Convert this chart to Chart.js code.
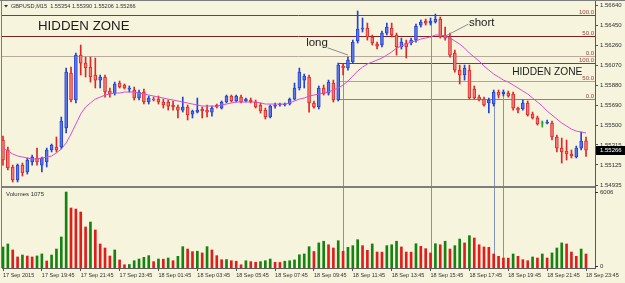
<!DOCTYPE html>
<html>
<head>
<meta charset="utf-8">
<script src="https://cdn.jsdelivr.net/npm/chart.js@4.4.1/dist/chart.umd.min.js"></script>
<style>
  html, body { margin: 0; padding: 0; background: #f6f4dc; }
  canvas { display: block; }
</style>
</head>
<body>
<canvas id="chart" width="625" height="283"></canvas>
<script>
// GBPUSD M15, 17 Sep 17:45 .. 18 Sep 23:45 (121 bars)
var symbol = 'GBPUSD,M15';
var timeLabels = ['17 Sep 2015', '17 Sep 19:45', '17 Sep 21:45', '17 Sep 23:45', '18 Sep 01:45',
  '18 Sep 03:45', '18 Sep 05:45', '18 Sep 07:45', '18 Sep 09:45', '18 Sep 11:45', '18 Sep 13:45',
  '18 Sep 15:45', '18 Sep 17:45', '18 Sep 19:45', '18 Sep 21:45', '18 Sep 23:45'];
var barsPerLabel = 8;

var opens = [
  1.55361,1.55267,1.55106,1.54983,1.55124,1.55058,1.55153,1.55191,1.55124,1.55153,
  1.55267,1.55295,1.55295,1.55475,1.55996,1.55740,1.56166,1.56090,1.56052,1.55977,
  1.55929,1.55958,1.55825,1.55806,1.55901,1.55882,1.55844,1.55835,1.55759,1.55816,
  1.55721,1.55749,1.55749,1.55721,1.55721,1.55693,1.55674,1.55645,1.55674,1.55607,
  1.55626,1.55655,1.55645,1.55626,1.55693,1.55664,1.55721,1.55778,1.55731,1.55768,
  1.55731,1.55740,1.55721,1.55693,1.55645,1.55579,1.55683,1.55693,1.55693,1.55702,
  1.55749,1.55854,1.55929,1.55958,1.55712,1.55674,1.55854,1.55806,1.55901,1.55740,
  1.56062,1.56043,1.56100,1.56299,1.56412,1.56422,1.56337,1.56270,1.56261,1.56374,
  1.56422,1.56356,1.56242,1.56280,1.56280,1.56308,1.56450,1.56488,1.56469,1.56479,
  1.56507,1.56356,1.56327,1.56185,1.56024,1.55977,1.56024,1.55844,1.55768,1.55749,
  1.55712,1.55702,1.55816,1.55797,1.55806,1.55797,1.55664,1.55655,1.55712,1.55607,
  1.55570,1.55522,1.55522,1.55522,1.55390,1.55285,1.55257,1.55229,1.55200,1.55285,
  1.55354];
var highs = [
  1.55399,1.55295,1.55124,1.55134,1.55143,1.55191,1.55219,1.55285,1.55200,1.55285,
  1.55323,1.55390,1.55579,1.56043,1.56052,1.56185,1.56261,1.56147,1.56147,1.56138,
  1.55977,1.55977,1.55854,1.55910,1.55920,1.55892,1.55873,1.55863,1.55835,1.55844,
  1.55778,1.55768,1.55778,1.55749,1.55740,1.55731,1.55693,1.55768,1.55693,1.55645,
  1.55759,1.55674,1.55693,1.55683,1.55702,1.55731,1.55787,1.55787,1.55787,1.55787,
  1.55759,1.55759,1.55740,1.55712,1.55664,1.55693,1.55712,1.55712,1.55712,1.55759,
  1.55901,1.56043,1.55986,1.55977,1.55731,1.55873,1.55882,1.55929,1.55929,1.56090,
  1.56081,1.56147,1.56308,1.56583,1.56517,1.56469,1.56356,1.56289,1.56393,1.56469,
  1.56469,1.56374,1.56327,1.56308,1.56327,1.56460,1.56498,1.56507,1.56517,1.56554,
  1.56526,1.56431,1.56374,1.56214,1.56071,1.56071,1.56071,1.55873,1.55787,1.55768,
  1.55759,1.55835,1.55835,1.55835,1.55825,1.55816,1.55674,1.55740,1.55731,1.55626,
  1.55588,1.55541,1.55551,1.55541,1.55409,1.55380,1.55361,1.55267,1.55304,1.55437,
  1.55390];
var lows = [
  1.55124,1.55077,1.54964,1.54964,1.55020,1.55039,1.55124,1.55124,1.55058,1.55106,
  1.55248,1.55248,1.55276,1.55428,1.55721,1.55712,1.55977,1.55958,1.55910,1.55854,
  1.55854,1.55768,1.55768,1.55787,1.55854,1.55844,1.55816,1.55740,1.55740,1.55702,
  1.55702,1.55731,1.55702,1.55664,1.55645,1.55645,1.55570,1.55626,1.55551,1.55570,
  1.55617,1.55570,1.55579,1.55588,1.55664,1.55655,1.55712,1.55721,1.55721,1.55712,
  1.55721,1.55712,1.55664,1.55617,1.55560,1.55570,1.55664,1.55683,1.55683,1.55693,
  1.55740,1.55835,1.55854,1.55626,1.55664,1.55655,1.55787,1.55787,1.55721,1.55731,
  1.55977,1.56024,1.56090,1.56280,1.56384,1.56308,1.56261,1.56223,1.56242,1.56356,
  1.56337,1.56166,1.56223,1.56138,1.56261,1.56289,1.56431,1.56450,1.56450,1.56469,
  1.56327,1.56308,1.56147,1.56005,1.55892,1.55929,1.55749,1.55749,1.55731,1.55683,
  1.55617,1.55683,1.55759,1.55778,1.55768,1.55645,1.55617,1.55645,1.55588,1.55560,
  1.55503,1.55484,1.55513,1.55361,1.55248,1.55143,1.55172,1.55191,1.55191,1.55267,
  1.55206];
var closes = [
  1.55172,1.55096,1.54983,1.55124,1.55049,1.55172,1.55200,1.55153,1.55191,1.55267,
  1.55314,1.55267,1.55541,1.56005,1.55740,1.56166,1.56090,1.56043,1.55958,1.55929,
  1.55958,1.55816,1.55797,1.55892,1.55863,1.55854,1.55854,1.55759,1.55816,1.55721,
  1.55759,1.55740,1.55721,1.55693,1.55683,1.55674,1.55645,1.55674,1.55598,1.55636,
  1.55645,1.55636,1.55626,1.55664,1.55674,1.55721,1.55778,1.55731,1.55778,1.55721,
  1.55749,1.55721,1.55674,1.55636,1.55579,1.55683,1.55693,1.55702,1.55702,1.55749,
  1.55854,1.56005,1.55967,1.55712,1.55674,1.55854,1.55797,1.55910,1.55740,1.56071,
  1.56043,1.56119,1.56289,1.56412,1.56422,1.56337,1.56280,1.56251,1.56374,1.56431,
  1.56356,1.56242,1.56289,1.56242,1.56308,1.56441,1.56479,1.56469,1.56488,1.56507,
  1.56337,1.56327,1.56166,1.56024,1.55977,1.56043,1.55759,1.55759,1.55740,1.55693,
  1.55740,1.55816,1.55787,1.55816,1.55778,1.55664,1.55645,1.55712,1.55598,1.55570,
  1.55513,1.55522,1.55532,1.55390,1.55285,1.55248,1.55229,1.55210,1.55285,1.55352,
  1.55266];
var maValues = [
  1.55285,1.55257,1.55229,1.55210,1.55200,1.55191,1.55181,1.55181,1.55191,1.55200,
  1.55210,1.55238,1.55276,1.55333,1.55418,1.55513,1.55607,1.55674,1.55712,1.55749,
  1.55768,1.55787,1.55797,1.55806,1.55806,1.55816,1.55816,1.55816,1.55806,1.55797,
  1.55787,1.55778,1.55768,1.55759,1.55749,1.55740,1.55731,1.55721,1.55712,1.55702,
  1.55693,1.55683,1.55683,1.55683,1.55683,1.55693,1.55702,1.55712,1.55721,1.55721,
  1.55721,1.55721,1.55721,1.55712,1.55702,1.55702,1.55702,1.55702,1.55702,1.55712,
  1.55731,1.55749,1.55759,1.55778,1.55787,1.55797,1.55806,1.55816,1.55835,1.55854,
  1.55882,1.55920,1.55967,1.56015,1.56052,1.56081,1.56100,1.56119,1.56138,1.56166,
  1.56195,1.56232,1.56251,1.56270,1.56289,1.56299,1.56318,1.56327,1.56337,1.56356,
  1.56356,1.56346,1.56327,1.56299,1.56270,1.56232,1.56185,1.56147,1.56109,1.56062,
  1.56024,1.55986,1.55958,1.55929,1.55910,1.55882,1.55854,1.55825,1.55797,1.55759,
  1.55721,1.55683,1.55636,1.55598,1.55560,1.55522,1.55494,1.55465,1.55446,1.55437,
  1.55428];
var volumes = [
  1620,1850,1390,850,1000,920,850,930,1080,540,
  1000,1460,2390,5850,4620,4540,4310,3160,3540,2930,
  1850,1540,920,1390,620,250,270,560,690,820,
  950,490,690,680,770,560,900,1640,1460,1260,
  1290,1160,1640,1390,950,640,650,560,520,250,
  560,490,440,490,560,690,440,430,520,560,
  620,1020,1080,1640,1270,1930,2060,1790,1540,2100,
  1290,1590,1720,2180,1720,1360,1850,1230,1220,1720,
  1790,2060,1620,1230,1220,1870,1670,1490,1160,1870,
  1790,2060,1460,1720,2230,1930,2490,2310,1790,1620,
  1590,1080,900,770,760,1080,900,640,560,850,
  770,1080,770,1160,1540,1930,1850,1230,900,1460,
  1075];

var priceTicks = [1.56640, 1.56450, 1.56260, 1.56070, 1.55880, 1.55690, 1.55500, 1.55315, 1.55125, 1.54935];
var volumeTicks = [6006, 0];

// fibonacci objects: prices for 100.0 / 50.0 / 0.0
var fiboLevels = ['100.0', '50.0', '0.0'];
var fiboA = [1.56545, 1.56351, 1.56157];
var fiboB = [1.56090, 1.55920, 1.55749];
var fiboBStartBar = 69;

// vertical marker lines: bar and the price they hang from
var markerBars = [70, 88, 101, 103];
var markerPrices = [1.56081, 1.56469, 1.55702, 1.55787];

var notes = [
  { text: 'HIDDEN ZONE', bar: 7.2, price: 1.56403, font: '13.3px "Liberation Sans", Arial' },
  { text: 'HIDDEN ZONE', bar: 104.8, price: 1.55977, font: '10.2px "Liberation Sans", Arial' },
  { text: 'long', bar: 62.4, price: 1.56251, font: '11.5px "Liberation Sans", Arial', from: [66.8, 1.56235], to: [71.0, 1.56166] },
  { text: 'short', bar: 95.9, price: 1.56444, font: '11.5px "Liberation Sans", Arial', from: [95.8, 1.56459], to: [91.3, 1.56351] }
];

var BG = '#f6f4dc';
var SMALL = '6px "Liberation Sans", Arial';
var last = opens.length - 1;

var bodies = [], wicks = [], bodyFill = [], bodyLine = [], wickColor = [];
for (var i = 0; i < opens.length; i++) {
  var lo = Math.min(opens[i], closes[i]), hi = Math.max(opens[i], closes[i]);
  if (hi - lo < 0.00004) { var m = (hi + lo) / 2; lo = m - 0.00002; hi = m + 0.00002; }
  bodies.push({ x: i, y: [lo, hi] });
  wicks.push({ x: i, y: [lows[i], highs[i]] });
  var up = closes[i] > opens[i], flat = closes[i] === opens[i];
  bodyFill.push(flat ? '#2aa02a' : up ? '#5b7ae8' : '#f07c7c');
  bodyLine.push(flat ? '#2aa02a' : up ? '#2442d4' : '#e02626');
  wickColor.push(flat ? '#2aa02a' : up ? '#2442d4' : '#e02626');
}
var volData = volumes.map(function (v, k) { return { x: k, y: v }; });
var volColor = volumes.map(function (v, k) { return (k === 0 || v > volumes[k - 1]) ? '#14830f' : '#e01c1c'; });
var maData = maValues.map(function (v, k) { return { x: k, y: v }; });

function zeroPad(scale) {
  scale.paddingLeft = 0; scale.paddingRight = 0; scale.paddingTop = 0; scale.paddingBottom = 0;
}

var mt4 = {
  id: 'mt4',
  beforeDraw: function (chart) {
    var c = chart.ctx;
    c.save();
    c.fillStyle = BG;
    c.fillRect(0, 0, chart.width, chart.height);
    c.restore();
  },
  beforeDatasetsDraw: function (chart) {
    var c = chart.ctx, a = chart.chartArea, x = chart.scales.x, y = chart.scales.y;
    c.save();
    c.lineWidth = 1;
    var colA = ['#8a3434', '#7a2222', '#b9a99a'];
    var colB = ['#8a3434', '#baa08c', '#b86e6e'];
    c.font = SMALL;
    c.textAlign = 'right';
    c.textBaseline = 'alphabetic';
    [[fiboA, colA, a.left], [fiboB, colB, x.getPixelForValue(fiboBStartBar)]].forEach(function (f) {
      f[0].forEach(function (p, k) {
        var py = Math.round(y.getPixelForValue(p)) + 0.5;
        c.strokeStyle = f[1][k];
        c.beginPath(); c.moveTo(f[2], py); c.lineTo(a.right, py); c.stroke();
        c.fillStyle = '#9a4040';
        c.fillText(fiboLevels[k], a.right - 1, py - 1.5);
      });
    });
    c.strokeStyle = '#8292b8';
    markerBars.forEach(function (b, k) {
      var px = Math.round(x.getPixelForValue(b)) + 0.5;
      c.beginPath(); c.moveTo(px, y.getPixelForValue(markerPrices[k])); c.lineTo(px, a.bottom); c.stroke();
    });
    c.restore();
  },
  afterDatasetsDraw: function (chart) {
    var c = chart.ctx, x = chart.scales.x, y = chart.scales.y;
    c.save();
    notes.forEach(function (n) {
      c.font = n.font;
      c.fillStyle = '#1c1c1c';
      c.textAlign = 'left';
      c.textBaseline = 'alphabetic';
      c.fillText(n.text, x.getPixelForValue(n.bar), y.getPixelForValue(n.price));
      if (n.from) {
        c.strokeStyle = '#8c8c8c';
        c.lineWidth = 1;
        c.beginPath();
        c.moveTo(x.getPixelForValue(n.from[0]), y.getPixelForValue(n.from[1]));
        c.lineTo(x.getPixelForValue(n.to[0]), y.getPixelForValue(n.to[1]));
        c.stroke();
      }
    });
    c.restore();
  },
  afterDraw: function (chart) {
    var c = chart.ctx, a = chart.chartArea, y = chart.scales.y, yv = chart.scales.yv;
    c.save();
    // window frames
    c.fillStyle = '#7d7d7d';
    c.fillRect(0, 0, chart.width, 1);
    c.fillRect(a.left - 1, 0, 1, a.bottom);
    c.fillRect(a.left - 1, 186, a.right - a.left + 1, 2);
    // title
    c.fillStyle = '#303030';
    c.beginPath(); c.moveTo(4, 5); c.lineTo(8, 5); c.lineTo(6, 7.5); c.closePath(); c.fill();
    c.font = '5.6px "Liberation Sans", Arial';
    c.textAlign = 'left';
    c.textBaseline = 'middle';
    c.fillText(symbol + '  ' + [opens[last], highs[last], lows[last], closes[last]].map(function (v) { return v.toFixed(5); }).join(' '), 11, 6);
    c.font = SMALL;
    c.fillText('Volumes ' + volumes[last], 6, 194);
    // volume window scale labels
    volumeTicks.forEach(function (v) {
      var py = yv.getPixelForValue(v);
      py = Math.min(Math.max(py, 192), a.bottom - 2);
      c.fillStyle = '#303030';
      c.fillRect(a.right, Math.round(py), 3, 1);
      c.fillText(String(v), a.right + 5, py);
    });
    // current price marker
    var cy = Math.round(y.getPixelForValue(closes[last]));
    c.fillStyle = '#000';
    c.fillRect(a.right + 1, cy - 4, chart.width - a.right - 1, 9);
    c.fillStyle = '#fff';
    c.fillText(closes[last].toFixed(5), a.right + 5, cy + 0.5);
    c.restore();
  }
};

Chart.defaults.font.family = '"Liberation Sans", Arial, sans-serif';
Chart.defaults.font.size = 6;
Chart.defaults.color = '#303030';

new Chart(document.getElementById('chart').getContext('2d'), {
  data: {
    datasets: [
      { type: 'line', data: maData, borderColor: '#d64fd6', borderWidth: 1, pointRadius: 0, tension: 0, yAxisID: 'y', order: 0 },
      { type: 'bar', data: bodies, backgroundColor: bodyFill, borderColor: bodyLine, borderWidth: 1, borderSkipped: false,
        barThickness: 3, grouped: false, yAxisID: 'y', order: 1 },
      { type: 'bar', data: wicks, backgroundColor: wickColor, borderWidth: 0, barThickness: 1, grouped: false, yAxisID: 'y', order: 2 },
      { type: 'bar', data: volData, backgroundColor: volColor, borderWidth: 0, barThickness: 2, grouped: false, yAxisID: 'yv', order: 3 }
    ]
  },
  options: {
    responsive: false,
    animation: false,
    devicePixelRatio: 1,
    layout: { padding: { left: 2, top: 1, right: 0, bottom: 0 } },
    plugins: { legend: { display: false }, tooltip: { enabled: false } },
    scales: {
      x: {
        type: 'linear', position: 'bottom', min: -0.206, max: 121.85, offset: false,
        afterBuildTicks: function (s) {
          s.ticks = timeLabels.map(function (t, k) { return { value: k * barsPerLabel }; });
        },
        afterFit: function (s) { s.height = 15; zeroPad(s); },
        ticks: {
          autoSkip: false, maxRotation: 0, align: 'start', padding: 1, font: { size: 5.5 },
          callback: function (v) { return timeLabels[Math.round(v / barsPerLabel)]; }
        },
        grid: { drawOnChartArea: false, drawTicks: true, tickLength: 3, color: '#505050', offset: false },
        border: { display: true, color: '#5a5a5a' }
      },
      y: {
        type: 'linear', position: 'right', min: 1.54149, max: 1.56678,
        afterBuildTicks: function (s) {
          s.ticks = priceTicks.map(function (p) { return { value: p }; });
        },
        afterFit: function (s) { s.width = 30; zeroPad(s); },
        ticks: { autoSkip: false, padding: 2, callback: function (v) { return v.toFixed(5); } },
        grid: { drawOnChartArea: false, drawTicks: true, tickLength: 3, color: '#505050' },
        border: { display: true, color: '#5a5a5a' }
      },
      yv: { type: 'linear', display: false, min: 0, max: 20560 }
    }
  },
  plugins: [mt4]
});
</script>
</body>
</html>
